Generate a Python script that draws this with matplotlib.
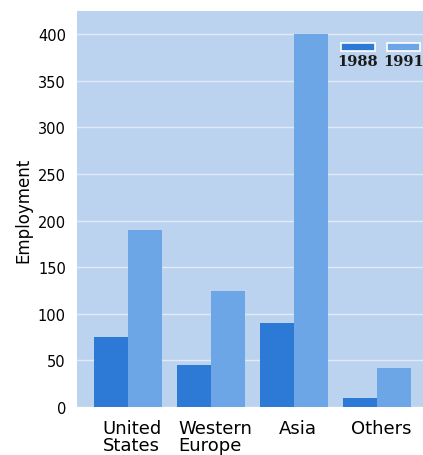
import matplotlib
matplotlib.use("Agg")
import matplotlib.pyplot as plt
import matplotlib.transforms as mtransforms
import numpy as np
from matplotlib.patches import Rectangle

regions = ["United\nStates", "Western\nEurope", "Asia", "Others"]
years = ["1988", "1991"]
emp_1988 = [75, 45, 90, 10]
emp_1991 = [190, 125, 400, 42]
yticks = [0, 50, 100, 150, 200, 250, 300, 350, 400]

c1988 = "#2d7ad6"
c1991 = "#6ca6e6"
bg = "#bcd3ef"

fig = plt.figure(figsize=(4.23, 4.56), dpi=100)
ax = fig.add_axes([77 / 423, (456 - 408) / 456, 346 / 423, 396 / 456])
ax.set_facecolor(bg)

x = np.arange(len(regions))
w = 0.41
ax.bar(x - w / 2, emp_1988, width=w, color=c1988, zorder=2)
ax.bar(x + w / 2, emp_1991, width=w, color=c1991, zorder=2)

ax.set_xlim(-0.615, 3.55)
ax.set_ylim(0, 425)
ax.set_yticks(yticks)
ax.set_yticklabels([str(v) for v in yticks], fontsize=10.5)
ax.set_xticks(x)
ax.set_xticklabels(regions, fontsize=13, linespacing=0.88)
ax.tick_params(length=0, pad=8)
ax.tick_params(axis="x", pad=9)
shift = mtransforms.ScaledTranslation(4 / 100, 0, fig.dpi_scale_trans)
for lbl in ax.get_xticklabels():
    lbl.set_multialignment("left")
    lbl.set_transform(lbl.get_transform() + shift)
ax.grid(axis="y", color="white", alpha=0.55, linewidth=1, zorder=1)
for s in ax.spines.values():
    s.set_visible(False)
ax.set_ylabel("Employment", fontsize=12, labelpad=4)

# key: swatches above their year labels
for (x0, x1, xc), lab, col in [((0.763, 0.861, 0.812), "1988", c1988),
                                ((0.896, 0.991, 0.943), "1991", c1991)]:
    ax.add_patch(Rectangle((x0, 0.900), x1 - x0, 0.02, transform=ax.transAxes,
                           facecolor=col, edgecolor="white", linewidth=1.2,
                           zorder=4, clip_on=False))
    ax.text(xc, 0.873, lab, transform=ax.transAxes, ha="center", va="center",
            fontsize=10.5, family="DejaVu Serif", weight="semibold",
            color="#1a1a1a", zorder=4)

fig.savefig("out.png", dpi=100)
